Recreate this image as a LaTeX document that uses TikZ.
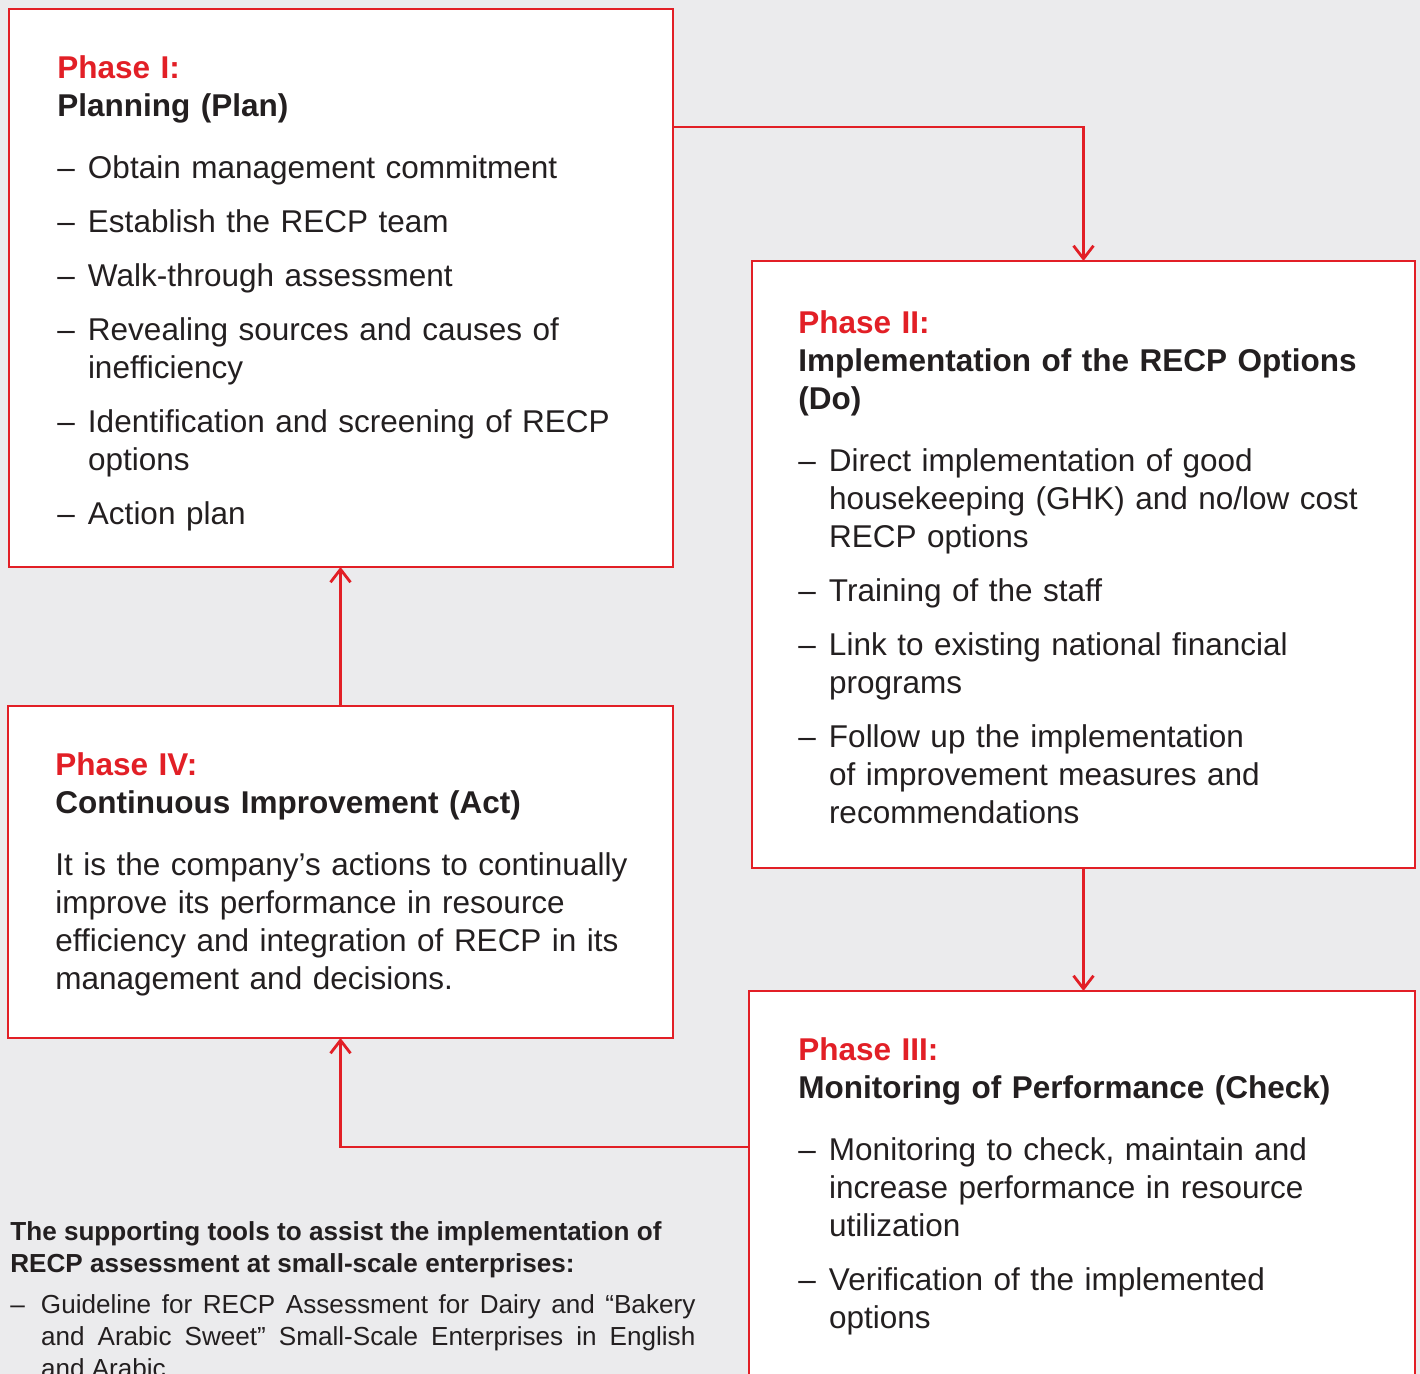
\documentclass[tikz,border=0pt]{standalone}
\usepackage{fontspec}
\setmainfont{Liberation Sans}
\usepackage{xcolor}
\usetikzlibrary{arrows.meta}
\definecolor{recpred}{HTML}{E21F26}
\definecolor{ink}{HTML}{231F20}
\definecolor{paper}{HTML}{EBEBED}
\tikzset{
  phasebox/.style={
    draw=recpred,
    fill=white,
    line width=1.4pt,
    inner sep=0pt,
    outer sep=0pt,
    anchor=north west
  },
  phasetext/.style={
    anchor=north west,
    inner sep=0pt,
    text width=310pt,
    align=left,
    text=ink,
    font=\fontsize{15.75}{19}\selectfont,
    execute at begin node={\setlength{\parskip}{8pt}\setlength{\parindent}{0pt}}
  },
  toolstext/.style={
    anchor=north west,
    inner sep=0pt,
    text width=342.5pt,
    align=justify,
    text=ink,
    font=\fontsize{13.05}{16}\selectfont,
    execute at begin node={\setlength{\parskip}{4.5pt}\setlength{\parindent}{0pt}}
  },
  flow/.style={
    draw=recpred,
    line width=1.4pt,
    -{Straight Barb[length=6.5pt,width=10pt]}
  }
}
\newcommand{\phhead}[2]{\textbf{\textcolor{recpred}{#1}\newline #2}\par\vspace{4pt}}
\newcommand{\phitem}[1]{\par\hangindent=15.3pt\hangafter=1\noindent\makebox[15.3pt][l]{–}#1}

\begin{document}
\begin{tikzpicture}[x=0.5pt,y=-0.5pt]
    \useasboundingbox (0,0) rectangle (1420,1374);
    \clip (0,0) rectangle (1420,1374);
    \fill[paper] (0,0) rectangle (1420,1374);
    % boxes
    \node[phasebox, minimum width=332pt, minimum height=279pt] (p1) at (9,9) {};
    \node[phasebox, minimum width=331.5pt, minimum height=303.5pt] (p2) at (752,261) {};
    \node[phasebox, minimum width=333pt, minimum height=230pt] (p3) at (749,991) {};
    \node[phasebox, minimum width=332.5pt, minimum height=166pt] (p4) at (8,706) {};
    % texts
    \node[phasetext] (t1) at (57,55) {%
      \phhead{Phase I:}{Planning (Plan)}
      \phitem{Obtain management commitment}
      \phitem{Establish the RECP team}
      \phitem{Walk-through assessment}
      \phitem{Revealing sources and causes of\newline inefficiency}
      \phitem{Identification and screening of RECP\newline options}
      \phitem{Action plan}\par};
    \node[phasetext] (t2) at (798,310) {%
      \phhead{Phase II:}{Implementation of the RECP Options\newline (Do)}
      \phitem{Direct implementation of good\newline housekeeping (GHK) and no/low cost\newline RECP options}
      \phitem{Training of the staff}
      \phitem{Link to existing national financial\newline programs}
      \phitem{Follow up the implementation\newline of improvement measures and\newline recommendations}\par};
    \node[phasetext] (t3) at (798,1037) {%
      \phhead{Phase III:}{Monitoring of Performance (Check)}
      \phitem{Monitoring to check, maintain and\newline increase performance in resource\newline utilization}
      \phitem{Verification of the implemented\newline options}\par};
    \node[phasetext] (t4) at (55,752) {%
      \phhead{Phase IV:}{Continuous Improvement (Act)}
      It is the company’s actions to continually\newline improve its performance in resource\newline efficiency and integration of RECP in its\newline management and decisions.\par};
    \node[toolstext] (tools) at (10,1221) {%
      \textbf{The supporting tools to assist the implementation of\newline RECP assessment at small-scale enterprises:}\par
      \phitem{Guideline for RECP Assessment for Dairy and “Bakery\linebreak and Arabic Sweet” Small-Scale Enterprises in English\linebreak and Arabic}\par};
    % cycle
    \draw[flow] ([yshift=-59pt]p1.north east) -| (p2.north);
    \draw[flow] (p2.south) -- (p2.south |- p3.north);
    \draw[flow] ([yshift=-78pt]p3.north west) -| (p4.south);
    \draw[flow] (p4.north) -- (p4.north |- p1.south);
\end{tikzpicture}
\end{document}
